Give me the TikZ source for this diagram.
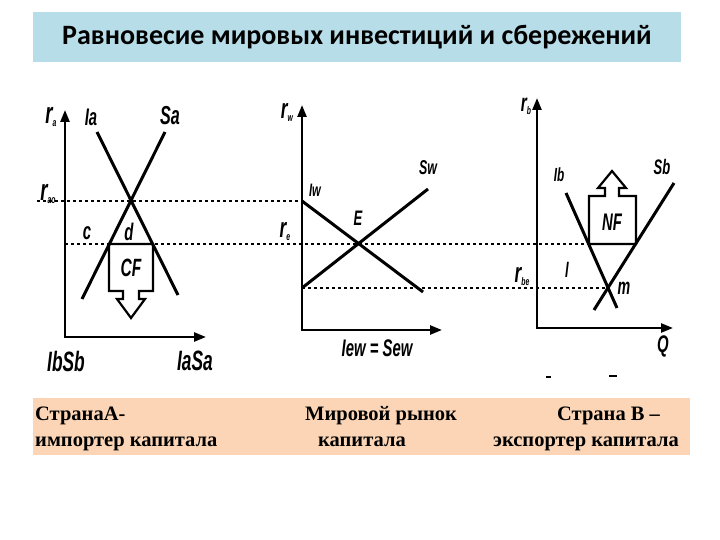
\documentclass[tikz,border=0pt]{standalone}
\usepackage{fontspec}
\setmainfont{Liberation Serif}
\newfontfamily\titlefont{Carlito}
\newfontfamily\lblfont[FakeStretch=0.62]{Liberation Sans}
\usetikzlibrary{arrows.meta}
\definecolor{titleblue}{RGB}{183,221,232}
\definecolor{capfill}{RGB}{251,213,181}
\newcommand{\rsb}[1]{r\raisebox{-3pt}{\fontsize{11}{11}\selectfont #1}}
\tikzset{
  lbl/.style={font=\lblfont\bfseries\itshape\fontsize{#1}{#1}\selectfont,
    inner sep=0pt},
  lbl/.default=24,
  curve/.style={line width=3pt},
  axisline/.style={line width=2.4pt,
    {Triangle[length=12pt,width=9pt]}-{Triangle[length=12pt,width=9pt]}},
  guide/.style={line width=2pt, dash pattern=on 2.5pt off 3.5pt},
  flowbox/.style={line width=2.2pt, line join=miter},
  capt/.style={font=\bfseries\fontsize{20.5}{20.5}\selectfont, anchor=base west,
    inner sep=0pt},
}

\begin{document}
\begin{tikzpicture}[x=1pt, y=-1pt]
\useasboundingbox (0,0) rectangle (720,540);
\fill[titleblue] (33,12) rectangle (681,62);
\node[font=\titlefont\bfseries\fontsize{28}{28}\selectfont] (title) at (357,37)
  {Равновесие мировых инвестиций и сбережений};
\fill[capfill] (33,398) rectangle (690,455);
\node[capt] (capA1) at (35,420) {СтранаА-};
\node[capt] (capA2) at (35,446) {импортер капитала};
\node[capt] (capW1) at (305,420) {Мировой рынок};
\node[capt] (capW2) at (318,446) {капитала};
\node[capt] (capB1) at (557,420) {Страна В –};
\node[capt] (capB2) at (493,446) {экспортер капитала};

% country A
\coordinate (ya) at (65,110);
\coordinate (oa) at (65,337);
\coordinate (xa) at (206,337);
\coordinate (ia1) at (97,132);
\coordinate (ia2) at (178,295);
\coordinate (sa1) at (165,132);
\coordinate (sa2) at (82,299);
% world market
\coordinate (yw) at (302,105);
\coordinate (ow) at (302,330);
\coordinate (xw) at (442,330);
\coordinate (iw1) at (302,201);
\coordinate (iw2) at (423,292);
\coordinate (sw1) at (302,288);
\coordinate (sw2) at (428,189);
% country B
\coordinate (yb) at (537,98);
\coordinate (ob) at (537,328);
\coordinate (xb) at (673,328);
\coordinate (ib1) at (566,193);
\coordinate (ib2) at (617,308);
\coordinate (sb1) at (674,183);
\coordinate (sb2) at (594,310);

\coordinate (rao) at (37,201);
\coordinate (ga) at (65,244);
\coordinate (nfl) at (589,244);
\coordinate (mb) at (608,288);
\draw[guide] (rao) -- (iw1);
\draw[guide] (ga) -- (nfl);
\draw[guide] (sw1) -- (mb);

\draw[axisline] (ya) -- (oa) -- (xa);
\draw[axisline] (yw) -- (ow) -- (xw);
\draw[axisline] (yb) -- (ob) -- (xb);

\draw[curve] (ia1) -- (ia2);
\draw[curve] (sa1) -- (sa2);
\draw[curve] (iw1) -- (iw2);
\draw[curve] (sw1) -- (sw2);
\draw[curve] (ib1) -- (ib2);
\draw[curve] (sb1) -- (sb2);

\draw[flowbox] (109,244) -- (153,244) -- (153,291) -- (139,291) -- (139,299)
  -- (145,299) -- (131,318) -- (117,299) -- (123,299) -- (123,291)
  -- (109,291) -- cycle;
\draw[flowbox] (nfl) -- (589,196) -- (605,196) -- (605,188) -- (598,188)
  -- (612,171) -- (626,188) -- (619,188) -- (619,196) -- (636,196)
  -- (636,244) -- cycle;

\node[lbl=30] (ra) at (51,117) {\rsb{a}};
\node[lbl=24] (ia) at (91,117) {Ia};
\node[lbl=26] (sa) at (170,116) {Sa};
\node[lbl=30] (raol) at (48,194) {\rsb{ao}};
\node[lbl=24] (cl) at (87,233) {c};
\node[lbl=24] (dl) at (129,232) {d};
\node[lbl=25] (cf) at (131,268) {CF};
\node[lbl=28] (ibsb) at (66,361) {IbSb};
\node[lbl=28] (iasa) at (195,361) {IaSa};

\node[lbl=28] (rw) at (287,112) {\rsb{w}};
\node[lbl=18] (iw) at (315,190) {Iw};
\node[lbl=21] (el) at (358,218) {E};
\node[lbl=20] (sw) at (428,168) {Sw};
\node[lbl=28] (re) at (285,232) {\rsb{e}};
\node[lbl=24] (iew) at (377,348) {Iew = Sew};

\node[lbl=25] (rb) at (526,106) {\rsb{b}};
\node[lbl=19] (ib) at (559,175) {Ib};
\node[lbl=21] (sb) at (662,167) {Sb};
\node[lbl=24] (nf) at (612,222) {NF};
\node[lbl=21] (ll) at (567,270) {l};
\node[lbl=23] (ml) at (624,288) {m};
\node[lbl=28] (rbe) at (522,277) {\rsb{be}};
\node[lbl=24] (ql) at (663,346) {Q};

\draw[line width=1.5pt] (546,377) -- (551,377);
\draw[line width=1.5pt] (609,376) -- (617,376);
\end{tikzpicture}
\end{document}
